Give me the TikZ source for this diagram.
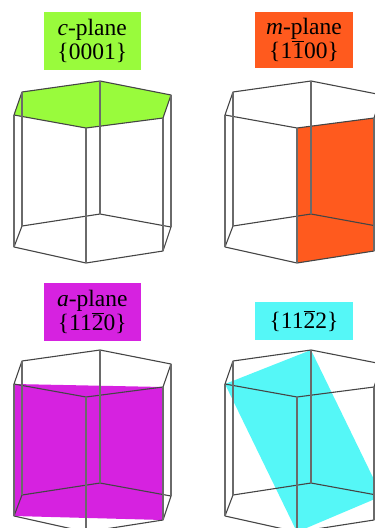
\documentclass[tikz,border=0pt]{standalone}
\usepackage{fontspec}
\setmainfont{Liberation Serif}
\newcommand{\ob}[1]{$\overline{\mbox{#1}}$}
\definecolor{cgreen}{HTML}{99FB3C}
\definecolor{corange}{HTML}{FF5A1E}
\definecolor{cmag}{HTML}{D622E0}
\definecolor{ccyan}{HTML}{55F7F7}
\definecolor{cedge}{HTML}{454545}
\tikzset{
  labelbox/.style={inner sep=0pt,minimum width=97.5pt,align=center,text=black,
    font=\fontsize{23.5}{23.5}\selectfont},
  edge/.style={draw=cedge,line width=1.1pt,line join=round},
  vedge/.style={draw=cedge!80,line width=1.2pt}
}
\newcommand{\prism}[3]{%
\begin{scope}[shift={(#1,#2)}]
  \coordinate (a1) at (14,115); \coordinate (a2) at (22,92); \coordinate (a3) at (100,81);
  \coordinate (a4) at (171,95); \coordinate (a5) at (163,118); \coordinate (a6) at (86,128);
  \coordinate (b1) at (14,247); \coordinate (b2) at (22,226); \coordinate (b3) at (100,214);
  \coordinate (b4) at (171,227); \coordinate (b5) at (163,251); \coordinate (b6) at (86,263);
  #3
  \draw[edge] (a1)--(a2)--(a3)--(a4)--(a5)--(a6)--cycle;
  \draw[edge] (b1)--(b2)--(b3)--(b4)--(b5)--(b6)--cycle;
  \foreach \k in {1,...,6}{\draw[vedge] (a\k)--(b\k);}
\end{scope}}
\begin{document}
\begin{tikzpicture}[x=1pt,y=-1pt]
\useasboundingbox (0,0) rectangle (375,528);
\clip (0,0) rectangle (375,528);
\prism{0}{0}{\fill[cgreen] (a1)--(a2)--(a3)--(a4)--(a5)--(a6)--cycle;}
\prism{211}{0}{\fill[corange] (a6)--(a5)--(b5)--(b6)--cycle;}
\prism{0}{269}{\fill[cmag] (a1)--(a5)--(b5)--(b1)--cycle;}
\prism{211}{269}{\fill[ccyan] (a1)--(a3)--(b4)--(b6)--cycle;}
\node[labelbox,fill=cgreen,minimum height=58pt] (lc) at (92.25,41) {\textit{c}-plane\\\{0001\}};
\node[labelbox,fill=corange,minimum height=56pt] (lm) at (304,40) {\textit{m}-plane\\\{1\ob{1}00\}};
\node[labelbox,fill=cmag,minimum height=58pt] (la) at (92.25,312) {\textit{a}-plane\\\{11\ob{2}0\}};
\node[labelbox,fill=ccyan,minimum height=38pt] (ls) at (304,321) {\{11\ob{2}2\}};
\end{tikzpicture}
\end{document}
